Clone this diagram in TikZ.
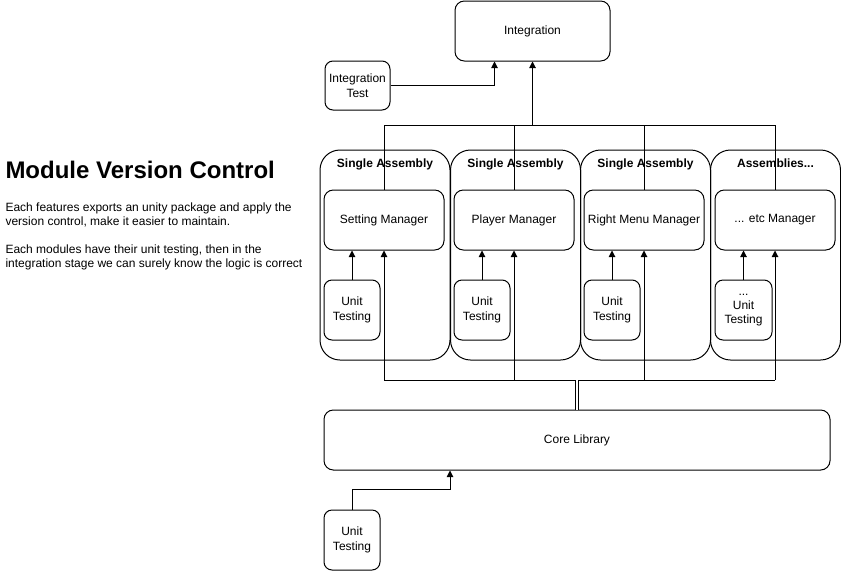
\documentclass[tikz,border=0pt]{standalone}
\usepackage{fontspec}
\setmainfont{Liberation Sans}
\usetikzlibrary{arrows.meta,calc}

\tikzset{
  box/.style={draw, rounded corners=7pt, align=center, font=\fontsize{9}{11.25}\selectfont},
  sz/.style 2 args={minimum width=#1*0.75pt, minimum height=#2*0.75pt, inner sep=0pt},
  asmbox/.style={draw, rounded corners=15pt, sz={130}{210}},
  asmtitle/.style={anchor=north, font=\fontsize{9}{10.5}\selectfont\bfseries, inner sep=0pt},
  arr/.style={-{Triangle[length=5pt,width=5pt]}},
}

\begin{document}
\begin{tikzpicture}[x=0.75pt, y=-0.75pt, line width=0.75pt]
  \useasboundingbox (0,0) rectangle (841,571);

  % text on the left
  \node[anchor=west, inner sep=0pt, font=\fontsize{18}{21}\selectfont\bfseries] (title) at (5,170) {Module Version Control};
  \node[anchor=north west, inner sep=0pt, align=left, font=\fontsize{9}{10.5}\selectfont] (desc) at (5,202)
    {Each features exports an unity package and apply the\\version control, make it easier to maintain.\\[10.5pt]
     Each modules have their unit testing, then in the\\integration stage we can surely know the logic is correct};

  % top
  \node[box, sz={155}{60}] (integ) at (532.5,31) {Integration};
  \node[box, sz={65}{49}, rounded corners=6pt] (itest) at (357.5,85.5) {Integration\\Test};

  % assemblies
  \node[asmbox] (asm1) at (385,255) {};
  \node[asmbox] (asm2) at (515.5,255) {};
  \node[asmbox] (asm3) at (645.5,255) {};
  \node[asmbox] (asm4) at (775.5,255) {};
  \node[asmtitle] at ($(asm1.north)+(0,9)$) {Single Assembly};
  \node[asmtitle] at ($(asm2.north)+(0,9)$) {Single Assembly};
  \node[asmtitle] at ($(asm3.north)+(0,9)$) {Single Assembly};
  \node[asmtitle] at ($(asm4.north)+(0,9)$) {Assemblies...};

  \node[box, sz={120}{60}] (mgr1) at (384,220) {Setting Manager};
  \node[box, sz={120}{60}] (mgr2) at (514,220) {Player Manager};
  \node[box, sz={120}{60}] (mgr3) at (644,220) {Right Menu Manager};
  \node[box, sz={120}{60}] (mgr4) at (775,220) {... etc Manager};

  \node[box, sz={56}{60}, rounded corners=6pt] (ut1) at (352,310) {Unit\\Testing};
  \node[box, sz={56}{60}, rounded corners=6pt] (ut2) at (482,310) {Unit\\Testing};
  \node[box, sz={56}{60}, rounded corners=6pt] (ut3) at (612,310) {Unit\\Testing};
  \node[box, sz={57}{60}, rounded corners=6pt, font=\fontsize{9}{10.5}\selectfont] (ut4) at (743.5,310) {...\\Unit\\Testing};

  % core
  \node[box, sz={506}{60}] (core) at (577,440) {Core Library};
  \node[box, sz={56}{60}, rounded corners=6pt] (coreut) at (352,540) {Unit\\Testing};

  \coordinate (topbus) at (0,125);
  \coordinate (botbus) at (0,380);

  % connectors
  \draw[arr] (itest.east) -| ($(integ.south)+(-38,0)$);
  \draw (mgr1.north) -- (mgr1.north |- topbus) -- (mgr4.north |- topbus) -- (mgr4.north);
  \draw (mgr2.north) -- (mgr2.north |- topbus);
  \draw (mgr3.north) -- (mgr3.north |- topbus);
  \draw[arr] (integ.south |- topbus) -- (integ.south);

  \draw (mgr1.south |- botbus) -- (mgr4.south |- botbus);
  \draw[arr] (mgr1.south |- botbus) -- (mgr1.south);
  \draw[arr] (mgr2.south |- botbus) -- (mgr2.south);
  \draw[arr] (mgr3.south |- botbus) -- (mgr3.south);
  \draw[arr] (mgr4.south |- botbus) -- (mgr4.south);
  \draw[double, double distance=2pt, line width=0.6pt] (core.north) -- (core.north |- botbus);

  \draw[arr] (ut1.north) -- (ut1.north |- mgr1.south);
  \draw[arr] (ut2.north) -- (ut2.north |- mgr2.south);
  \draw[arr] (ut3.north) -- (ut3.north |- mgr3.south);
  \draw[arr] (ut4.north) -- (ut4.north |- mgr4.south);

  \draw[arr] (coreut.north) -- ++(0,-20) -| ($(core.south)+(-127,0)$);
\end{tikzpicture}
\end{document}
